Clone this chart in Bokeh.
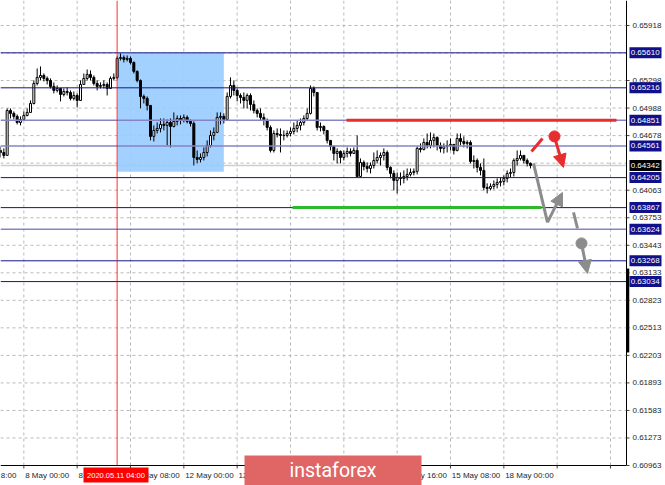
from bokeh.plotting import figure
from bokeh.models import Range1d, ColumnDataSource, Arrow, NormalHead
from bokeh.embed import file_html
from bokeh.resources import INLINE
from bokeh.core.properties import value

# ---------------- data (H1 candles) ----------------
open0 = 0.64511
closes = [0.64488, 0.64455, 0.64961, 0.64928, 0.64894, 0.64826, 0.64860, 0.64905, 0.64939, 0.65040,
          0.65265, 0.65333, 0.65356, 0.65322, 0.65299, 0.65232, 0.65187, 0.65209, 0.65141, 0.65175,
          0.65164, 0.65097, 0.65130, 0.65074, 0.65254, 0.65322, 0.65367, 0.65333, 0.65265, 0.65232,
          0.65243, 0.65254, 0.65209, 0.65322, 0.65333, 0.65547, 0.65558, 0.65536, 0.65547, 0.65502,
          0.65401, 0.65299, 0.65119, 0.65097, 0.65018, 0.64669, 0.64736, 0.64759, 0.64804, 0.64793,
          0.64826, 0.64781, 0.64838, 0.64871, 0.64849, 0.64883, 0.64838, 0.64815, 0.64432, 0.64410,
          0.64432, 0.64488, 0.64567, 0.64680, 0.64714, 0.64883, 0.64894, 0.64860, 0.65119, 0.65243,
          0.65187, 0.65130, 0.65108, 0.65074, 0.65130, 0.65029, 0.64961, 0.64928, 0.64883, 0.64849,
          0.64770, 0.64511, 0.64702, 0.64691, 0.64680, 0.64680, 0.64702, 0.64725, 0.64759, 0.64793,
          0.64826, 0.64871, 0.64928, 0.65209, 0.65164, 0.64770, 0.64781, 0.64736, 0.64624, 0.64556,
          0.64477, 0.64500, 0.64432, 0.64477, 0.64500, 0.64477, 0.64511, 0.64218, 0.64376, 0.64331,
          0.64308, 0.64342, 0.64398, 0.64432, 0.64455, 0.64488, 0.64320, 0.64252, 0.64173, 0.64207,
          0.64196, 0.64218, 0.64241, 0.64263, 0.64275, 0.64534, 0.64522, 0.64601, 0.64567, 0.64624,
          0.64657, 0.64567, 0.64534, 0.64556, 0.64567, 0.64579, 0.64511, 0.64646, 0.64612, 0.64590,
          0.64601, 0.64387, 0.64398, 0.64320, 0.64286, 0.64094, 0.64083, 0.64106, 0.64128, 0.64151,
          0.64162, 0.64196, 0.64252, 0.64263, 0.64398, 0.64421, 0.64455, 0.64398, 0.64365, 0.64342]
highs = [0.64556, 0.64534, 0.64984, 0.64984, 0.64950, 0.64916, 0.64894, 0.64950, 0.64984, 0.65074,
         0.65299, 0.65434, 0.65457, 0.65378, 0.65344, 0.65322, 0.65277, 0.65243, 0.65209, 0.65209,
         0.65220, 0.65187, 0.65175, 0.65153, 0.65299, 0.65378, 0.65423, 0.65412, 0.65356, 0.65299,
         0.65277, 0.65299, 0.65277, 0.65344, 0.65378, 0.65569, 0.65603, 0.65581, 0.65581, 0.65569,
         0.65513, 0.65412, 0.65310, 0.65141, 0.65119, 0.65018, 0.64793, 0.64826, 0.64871, 0.64871,
         0.64860, 0.64871, 0.64939, 0.64905, 0.64905, 0.64916, 0.64905, 0.64860, 0.64838, 0.64511,
         0.64477, 0.64545, 0.64624, 0.64736, 0.64770, 0.64939, 0.64939, 0.64928, 0.65164, 0.65333,
         0.65299, 0.65209, 0.65153, 0.65164, 0.65153, 0.65153, 0.65074, 0.64984, 0.64984, 0.64928,
         0.64871, 0.64793, 0.64736, 0.64759, 0.64759, 0.64736, 0.64736, 0.64770, 0.64826, 0.64849,
         0.64871, 0.64905, 0.64984, 0.65243, 0.65232, 0.65164, 0.64826, 0.64793, 0.64736, 0.64624,
         0.64567, 0.64534, 0.64511, 0.64511, 0.64545, 0.64534, 0.64545, 0.64680, 0.64421, 0.64398,
         0.64376, 0.64376, 0.64488, 0.64511, 0.64488, 0.64534, 0.64511, 0.64331, 0.64286, 0.64263,
         0.64263, 0.64286, 0.64308, 0.64308, 0.64308, 0.64556, 0.64590, 0.64646, 0.64702, 0.64714,
         0.64702, 0.64669, 0.64601, 0.64590, 0.64624, 0.64646, 0.64579, 0.64702, 0.64702, 0.64669,
         0.64624, 0.64624, 0.64455, 0.64421, 0.64365, 0.64421, 0.64140, 0.64140, 0.64173, 0.64196,
         0.64207, 0.64230, 0.64286, 0.64308, 0.64421, 0.64511, 0.64511, 0.64455, 0.64421, 0.64376]
lows = [0.64432, 0.64421, 0.64477, 0.64871, 0.64860, 0.64804, 0.64793, 0.64849, 0.64894, 0.64939,
        0.65029, 0.65243, 0.65299, 0.65288, 0.65254, 0.65209, 0.65153, 0.65164, 0.65063, 0.65119,
        0.65130, 0.65074, 0.65074, 0.64995, 0.65085, 0.65265, 0.65299, 0.65299, 0.65243, 0.65187,
        0.65209, 0.65209, 0.65130, 0.65209, 0.65299, 0.65310, 0.65524, 0.65502, 0.65513, 0.65479,
        0.65378, 0.65277, 0.64984, 0.65040, 0.64961, 0.64624, 0.64612, 0.64702, 0.64714, 0.64736,
        0.64567, 0.64545, 0.64770, 0.64793, 0.64804, 0.64826, 0.64815, 0.64781, 0.64342, 0.64365,
        0.64376, 0.64398, 0.64444, 0.64545, 0.64624, 0.64725, 0.64804, 0.64815, 0.64871, 0.65097,
        0.65130, 0.65063, 0.65040, 0.64984, 0.64984, 0.64961, 0.64928, 0.64883, 0.64849, 0.64793,
        0.64736, 0.64488, 0.64488, 0.64657, 0.64488, 0.64624, 0.64657, 0.64669, 0.64691, 0.64714,
        0.64736, 0.64793, 0.64849, 0.64916, 0.65119, 0.64736, 0.64725, 0.64691, 0.64590, 0.64511,
        0.64398, 0.64365, 0.64365, 0.64398, 0.64432, 0.64444, 0.64477, 0.64207, 0.64286, 0.64286,
        0.64263, 0.64252, 0.64308, 0.64365, 0.64342, 0.64398, 0.64286, 0.64196, 0.64061, 0.64027,
        0.64117, 0.64140, 0.64173, 0.64218, 0.64230, 0.64241, 0.64488, 0.64511, 0.64534, 0.64534,
        0.64545, 0.64511, 0.64488, 0.64477, 0.64488, 0.64511, 0.64466, 0.64500, 0.64567, 0.64545,
        0.64534, 0.64365, 0.64308, 0.64263, 0.64230, 0.64061, 0.64027, 0.64061, 0.64072, 0.64083,
        0.64106, 0.64117, 0.64151, 0.64207, 0.64218, 0.64342, 0.64398, 0.64365, 0.64331, 0.64308]

# time axis (one bar per hour, a label every 16 bars)
tick_bars = [7, 23, 39, 55, 71, 87, 103, 119, 135, 151]
tick_labels = ["8 May 00:00", "8 May 16:00", "11 May 08:00", "12 May 00:00",
               "12 May 16:00", "13 May 08:00", "14 May 00:00", "14 May 16:00", "15 May 08:00",
               "18 May 00:00"]
edge_label = "8:00"          # visible tail of the previous label at the left edge
grid_bars = [7, 23, 39, 55, 71, 87, 103, 119, 135, 151, 167, 183]
marker_bar = 35
marker_text = "2020.05.11 04:00"

# price axis
price_ticks = [0.65918, 0.65298, 0.64988, 0.64678, 0.64063, 0.63753, 0.63443, 0.63133,
               0.62823, 0.62513, 0.62203, 0.61893, 0.61583, 0.61273, 0.60963]
price_grid = [0.65918, 0.65608, 0.65298, 0.64988, 0.64678, 0.64368, 0.64063, 0.63753, 0.63443,
              0.63133, 0.62823, 0.62513, 0.62203, 0.61893, 0.61583, 0.61273]
levels = [0.65610, 0.65216, 0.64851, 0.64561, 0.64205, 0.63867, 0.63624, 0.63268, 0.63034]
level_strong = [True, True, False, False, True, True, False, True, True]
last_price = 0.64342

# analysis drawings
zone_x = [35.1, 67.0]
zone_y = [0.64270, 0.65610]
resist_x = [103.8, 184.8]
resist_y = 0.64851
support_x = [87.6, 162.3]
support_y = 0.63867
red_slash_x = [159.3, 162.6]
red_slash_y = [0.64500, 0.64646]
red_dot = (166.2, 0.64669)
red_arrow = (166.5, 0.64624, 168.9, 0.64320)
gray_path_x = [159.9, 164.1]
gray_path_y = [0.64365, 0.63700]
gray_arrow1 = (164.1, 0.63700, 168.6, 0.64038)
gray_dash_x = [171.9, 173.1]
gray_dash_y = [0.63813, 0.63633]
gray_dot = (174.3, 0.63464)
gray_arrow2 = (174.6, 0.63408, 176.1, 0.63126)
scroll_y = [0.62236, 0.63181]

# ---------------- layout constants ----------------
PX = 3.3333              # pixels per bar
K = 0.00011261           # price per pixel
W, H = 665, 485
CHART_R = 626 / PX       # right edge of chart area (bars)
P_BOT = 0.60963          # bottom edge of chart area (price)
P_TOP = P_BOT + 465 * K
FONT = value("Liberation Sans")
TXT = "#1e1e1e"
NAVY = "#14148a"
LIGHT = "#8585c6"
RED = "#e62e2e"
GRAY = "#8c8c8c"
GREEN = "#2eb82e"
GRID = "#b9b9b9"

p = figure(width=W, height=H, output_backend="svg", toolbar_location=None,
           x_range=Range1d(0, W / PX), y_range=Range1d(P_TOP - H * K, P_TOP),
           x_axis_location=None, y_axis_location=None,
           min_border_left=0, min_border_top=0, min_border_right=0, min_border_bottom=0,
           background_fill_color="white", border_fill_color="white", outline_line_color=None)
p.xgrid.visible = False
p.ygrid.visible = False

# dashed grid of the chart area
p.segment(x0=grid_bars, y0=[P_BOT] * len(grid_bars), x1=grid_bars, y1=[P_TOP] * len(grid_bars),
          line_color=GRID, line_dash="3 3", line_width=1)
p.segment(x0=[0] * len(price_grid), y0=price_grid, x1=[CHART_R] * len(price_grid), y1=price_grid,
          line_color=GRID, line_dash="3 3", line_width=1)

# current price line
p.segment(x0=[0], y0=[last_price], x1=[CHART_R], y1=[last_price], line_color="#cdcdcd", line_width=1.5)

# analysis zone
p.quad(left=zone_x[0], right=zone_x[1], bottom=zone_y[0], top=zone_y[1],
       fill_color="#99ccff", fill_alpha=0.9, line_color=None)

# candles
opens = [open0] + closes[:-1]
idx = list(range(len(closes)))
bull = dict(x=[], top=[], bottom=[])
bear = dict(x=[], top=[], bottom=[])
for i, o, c in zip(idx, opens, closes):
    d = bull if c >= o else bear
    d["x"].append(i)
    d["top"].append(max(o, c))
    d["bottom"].append(min(o, c))
p.segment(x0=idx, y0=lows, x1=idx, y1=highs, line_color="black", line_width=1)
p.vbar(x="x", top="top", bottom="bottom", width=0.6, source=ColumnDataSource(bull),
       fill_color="white", line_color="black", line_width=1)
p.vbar(x="x", top="top", bottom="bottom", width=0.6, source=ColumnDataSource(bear),
       fill_color="black", line_color="black", line_width=1)

# horizontal levels
p.segment(x0=[0] * len(levels), y0=levels, x1=[CHART_R] * len(levels), y1=levels,
          line_color=[NAVY if s else LIGHT for s in level_strong],
          line_width=[1 if s else 1.5 for s in level_strong])

# time marker
p.segment(x0=[marker_bar], y0=[P_BOT], x1=[marker_bar], y1=[P_TOP],
          line_color="#ff0000", line_alpha=0.55, line_width=1.5)

# resistance / support
p.segment(x0=[resist_x[0]], y0=[resist_y], x1=[resist_x[1]], y1=[resist_y], line_color=RED, line_width=3)
p.segment(x0=[support_x[0]], y0=[support_y], x1=[support_x[1]], y1=[support_y], line_color=GREEN, line_width=3)

# forecast drawings
p.line(red_slash_x, red_slash_y, line_color=RED, line_width=3)
p.scatter([red_dot[0]], [red_dot[1]], size=11, color=RED)
p.add_layout(Arrow(end=NormalHead(size=13, fill_color=RED, line_color=RED),
                   x_start=red_arrow[0], y_start=red_arrow[1], x_end=red_arrow[2], y_end=red_arrow[3],
                   line_color=RED, line_width=3))
p.line(gray_path_x, gray_path_y, line_color=GRAY, line_width=3)
p.add_layout(Arrow(end=NormalHead(size=13, fill_color=GRAY, line_color=GRAY),
                   x_start=gray_arrow1[0], y_start=gray_arrow1[1], x_end=gray_arrow1[2], y_end=gray_arrow1[3],
                   line_color=GRAY, line_width=3))
p.line(gray_dash_x, gray_dash_y, line_color=GRAY, line_width=3)
p.scatter([gray_dot[0]], [gray_dot[1]], size=11, color=GRAY)
p.add_layout(Arrow(end=NormalHead(size=13, fill_color=GRAY, line_color=GRAY),
                   x_start=gray_arrow2[0], y_start=gray_arrow2[1], x_end=gray_arrow2[2], y_end=gray_arrow2[3],
                   line_color=GRAY, line_width=3))

# ---- axes drawn on the same scales ----
p.segment(x0=[CHART_R, 0], y0=[P_BOT, P_BOT], x1=[CHART_R, CHART_R], y1=[P_TOP, P_BOT],
          line_color="black", line_width=1)
# price ticks + labels
p.segment(x0=[CHART_R] * len(price_ticks), y0=price_ticks,
          x1=[CHART_R + 3 / PX] * len(price_ticks), y1=price_ticks, line_color="#404040", line_width=1)
p.text(x=[CHART_R + 6 / PX] * len(price_ticks), y=price_ticks, text=["%.5f" % v for v in price_ticks],
       text_font=FONT, text_font_size=value("8px"), text_color=TXT,
       text_align="left", text_baseline="middle")
# time ticks + labels
p.segment(x0=grid_bars, y0=[P_BOT] * len(grid_bars), x1=grid_bars, y1=[P_BOT - 3 * K] * len(grid_bars),
          line_color="#404040", line_width=1)
p.text(x=[b + 0.4 for b in tick_bars], y=[P_BOT - 10 * K] * len(tick_bars), text=tick_labels,
       text_font=FONT, text_font_size=value("8px"), text_color=TXT,
       text_align="left", text_baseline="middle")
p.text(x=[0.3 / PX], y=[P_BOT - 10 * K], text=[edge_label],
       text_font=FONT, text_font_size=value("8px"), text_color=TXT,
       text_align="left", text_baseline="middle")

# level boxes on the price scale
BOX_L, BOX_R = 629 / PX, 661 / PX
p.quad(left=[BOX_L] * len(levels), right=[BOX_R] * len(levels),
       bottom=[v - 5.5 * K for v in levels], top=[v + 5.5 * K for v in levels],
       fill_color="#10108a", line_color=None)
p.quad(left=[BOX_L], right=[BOX_R], bottom=[last_price - 5.5 * K], top=[last_price + 5.5 * K],
       fill_color="black", line_color=None)
box_vals = levels + [last_price]
p.text(x=[BOX_L + 1.2 / PX] * len(box_vals), y=box_vals, text=["%.5f" % v for v in box_vals],
       text_font=FONT, text_font_size=value("8px"), text_color="white",
       text_align="left", text_baseline="middle")
# scroll marker on the price scale
p.segment(x0=[CHART_R + 1.5 / PX], y0=[scroll_y[0]], x1=[CHART_R + 1.5 / PX], y1=[scroll_y[1]],
          line_color="black", line_width=2.5)

# red time-marker label
p.quad(left=[83 / PX], right=[148 / PX], bottom=[P_BOT - 17 * K], top=[P_BOT - 2 * K],
       fill_color="#ff0000", line_color=None)
p.text(x=[115.5 / PX], y=[P_BOT - 9.5 * K], text=[marker_text], text_font=FONT,
       text_font_size=value("7.5px"), text_color="white", text_align="center", text_baseline="middle")

# watermark logo
p.quad(left=[244 / PX], right=[421 / PX], bottom=[P_BOT - 21 * K], top=[P_BOT + 10 * K],
       fill_color="#e06666", line_color=None)
p.text(x=[332.5 / PX], y=[P_BOT - 5 * K], text=["instaforex"], text_font=value("Roboto"),
       text_font_size=value("19.5px"), text_color="white", text_align="center", text_baseline="middle")

open("out.html", "w").write(file_html(p, INLINE))
